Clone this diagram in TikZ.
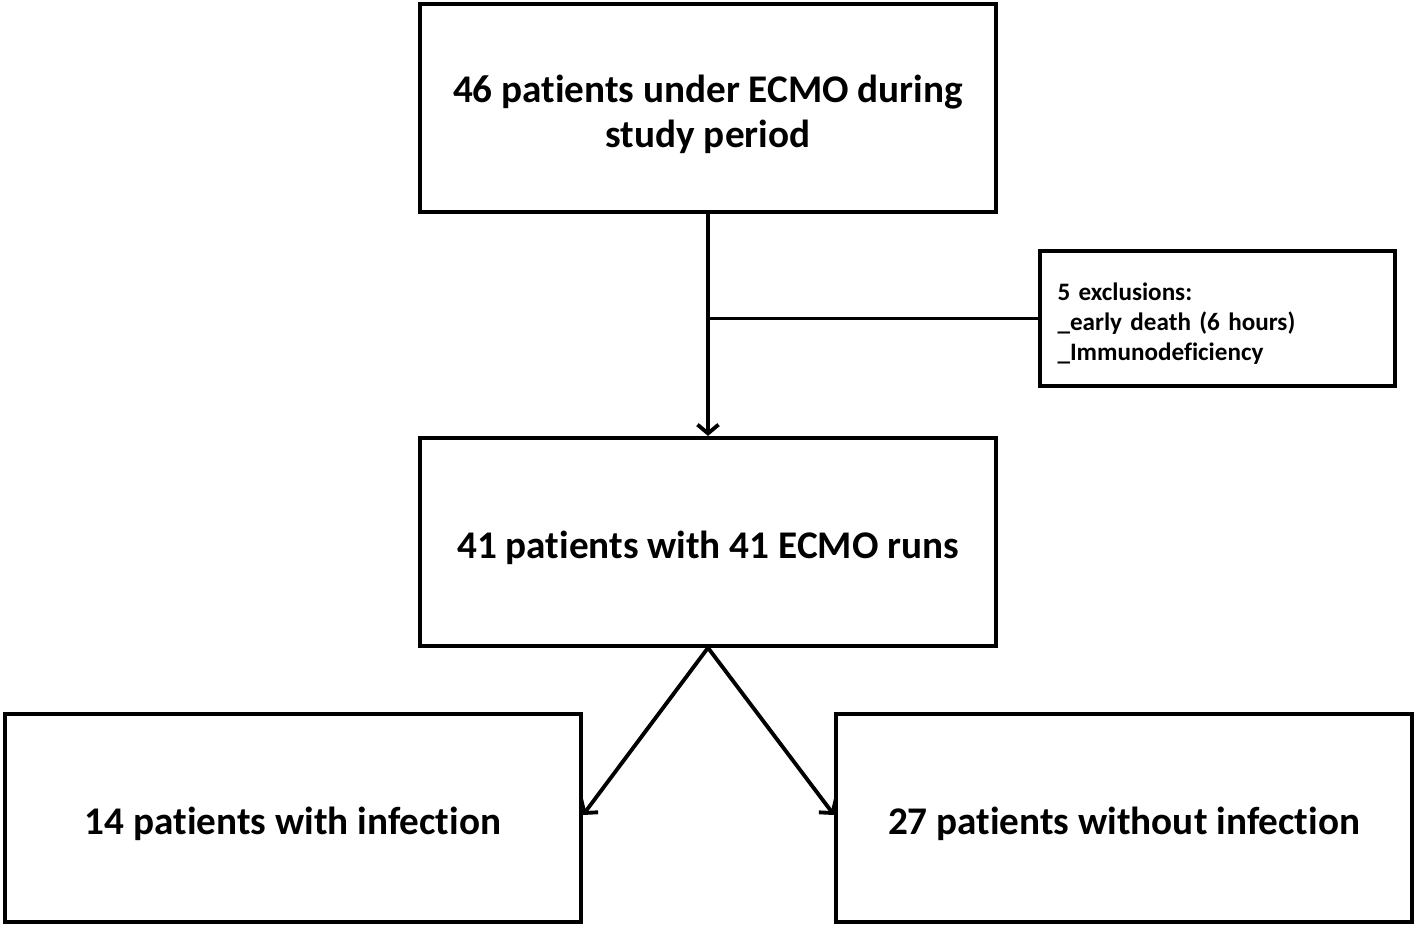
\documentclass[tikz,border=0pt]{standalone}
\usepackage{fontspec}
\setmainfont[RawFeature=-liga]{Carlito}
\usetikzlibrary{positioning,arrows.meta,shadows}

\begin{document}
\begin{tikzpicture}[
    flowbox/.style={rectangle, draw=black, fill=white, line width=2.2pt, minimum width=11.52cm, minimum height=4.16cm,
        align=center, font=\fontsize{22.3}{25.5}\selectfont\bfseries, text height=23pt, text depth=4.5pt,
        drop shadow={opacity=0.25, shadow xshift=1.2pt, shadow yshift=-1.2pt}},
    notebox/.style={rectangle, draw=black, fill=white, line width=2.2pt, minimum width=7.1cm, minimum height=2.7cm,
        text width=6.4cm, align=left, font=\fontsize{14.3}{17}\selectfont\bfseries,
        drop shadow={opacity=0.25, shadow xshift=1.2pt, shadow yshift=-1.2pt}},
    flowline/.style={line width=2.2pt},
    flowarrow/.style={line width=2.2pt, -{Straight Barb[length=5pt, width=12pt]}}]
            \useasboundingbox (0,0) rectangle (28.32,-18.62);
            %Nodes
            \node[flowbox, text height=49pt](study) at (14.16,-2.16){46 patients under ECMO during\\study period};
            \node[flowbox](cohort)[below=4.44cm of study]{41 patients with 41 ECMO runs};
            \node[notebox](exclusions) at (24.35,-6.37){5 exclusions:\\\_early death (6 hours)\\\_Immunodeficiency\vspace{-6pt}};
            \node[flowbox](infected) at (5.86,-16.36){14 patients with infection};
            \node[flowbox](noninfected) at (22.48,-16.36){27 patients without infection};
            \coordinate (split) at (study.south |- exclusions.west);

            %Lines
            \draw[flowarrow] (study.south) -- (cohort.north);
            \draw[flowline] (split) -- (exclusions.west);
            \draw[flowarrow] (cohort.south) -- ([yshift=0.06cm]infected.east);
            \draw[flowarrow] (cohort.south) -- ([yshift=0.06cm]noninfected.west);
        \end{tikzpicture}
\end{document}
